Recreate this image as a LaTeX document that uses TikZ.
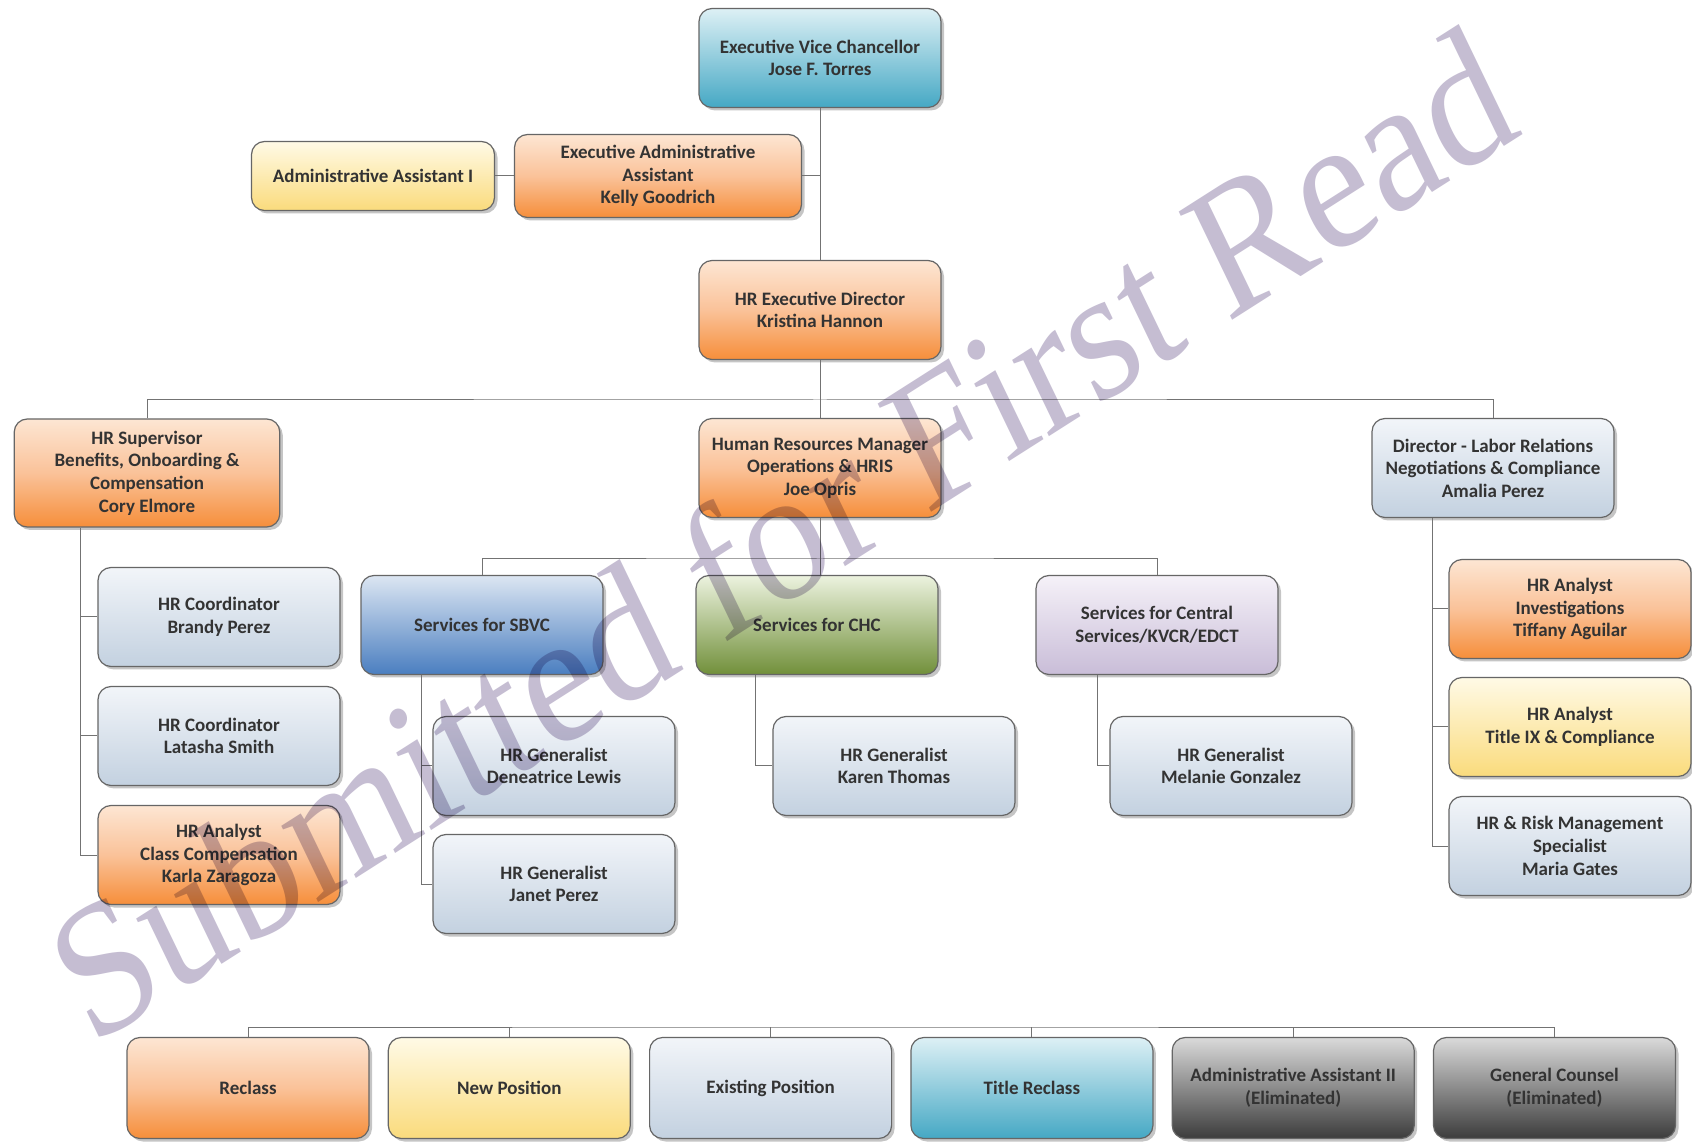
\documentclass[tikz,border=0pt]{standalone}
\usepackage{fontspec}
\setmainfont{Carlito}
\newfontfamily\markfont{Liberation Serif}
\usetikzlibrary{shadows}
\definecolor{orTop}{HTML}{FDE6D3}
\definecolor{orMid}{HTML}{FAC299}
\definecolor{orBot}{HTML}{F68E3A}
\definecolor{yeTop}{HTML}{FFFAE6}
\definecolor{yeBot}{HTML}{FADB7C}
\definecolor{gbTop}{HTML}{F2F5F9}
\definecolor{gbBot}{HTML}{C3D1E0}
\definecolor{cyTop}{HTML}{DDF0F5}
\definecolor{cyBot}{HTML}{45A8C4}
\definecolor{blTop}{HTML}{DCE6F2}
\definecolor{blBot}{HTML}{4A7EC0}
\definecolor{grTop}{HTML}{ECF2DF}
\definecolor{grBot}{HTML}{71903A}
\definecolor{laTop}{HTML}{F5F1F8}
\definecolor{laBot}{HTML}{C9BDD8}
\definecolor{dgTop}{HTML}{DADADA}
\definecolor{dgBot}{HTML}{3C3C3C}
\definecolor{boxText}{HTML}{333333}
\definecolor{markColor}{HTML}{C5BDD2}

\begin{document}
\begin{tikzpicture}[x=0.5pt,y=-0.5pt,
box/.style={rectangle,rounded corners=6.5pt,draw=black!60,line width=0.6pt,
 minimum width=121pt,minimum height=49.5pt,align=center,inner sep=2pt,
 font=\myfontbox,text=boxText,
 drop shadow={shadow xshift=1.5pt,shadow yshift=-1.5pt,opacity=0.45}},
orangebox/.style={box,top color=orTop,bottom color=orBot,middle color=orMid},
yellowbox/.style={box,top color=yeTop,bottom color=yeBot},
greybluebox/.style={box,top color=gbTop,bottom color=gbBot},
cyanbox/.style={box,top color=cyTop,bottom color=cyBot},
bluebox/.style={box,top color=blTop,bottom color=blBot},
greenbox/.style={box,top color=grTop,bottom color=grBot},
lavenderbox/.style={box,top color=laTop,bottom color=laBot},
darkbox/.style={box,top color=dgTop,bottom color=dgBot},
link/.style={draw=black!55,line width=0.5pt},
watermark/.style={font=\myfontmark,text=markColor,xscale=0.87,rotate=29}]
\newcommand{\myfontbox}{\fontsize{9.5}{11.3}\selectfont\bfseries}
\newcommand{\myfontmark}{\markfont\fontsize{95}{95}\selectfont}
%Page
\fill [white] (0,0) rectangle (1692,1143);
\useasboundingbox (0,0) rectangle (1692,1143);
%Top of the chart
\node [cyanbox] (evc) at (820,58) {Executive Vice Chancellor\\Jose F. Torres};
\node [orangebox,minimum width=143.5pt,minimum height=41.5pt] (execAssist) at (658,176) {Executive Administrative\\Assistant\\Kelly Goodrich};
\node [yellowbox,minimum width=121.5pt,minimum height=34.5pt] (adminOne) at (373,176) {Administrative Assistant I};
\node [orangebox] (hrDir) at (820,310) {HR Executive Director\\Kristina Hannon};
%Second level
\node [orangebox,minimum width=132.75pt,minimum height=54pt] (hrSup) at (147,473) {HR Supervisor\\Benefits, Onboarding \&\\Compensation\\Cory Elmore};
\node [orangebox] (hrMgr) at (820,468) {Human Resources Manager\\Operations \& HRIS\\Joe Opris};
\node [greybluebox] (dirLabor) at (1493,468) {Director - Labor Relations\\Negotiations \& Compliance\\Amalia Perez};
%Under the supervisor
\node [greybluebox] (coord1) at (219,617) {HR Coordinator\\Brandy Perez};
\node [greybluebox] (coord2) at (219,736) {HR Coordinator\\Latasha Smith};
\node [orangebox] (analystCC) at (219,855) {HR Analyst\\Class Compensation\\Karla Zaragoza};
%Services
\node [bluebox] (sbvc) at (482,625) {Services for SBVC};
\node [greenbox] (chc) at (817,625) {Services for CHC};
\node [lavenderbox] (central) at (1157,625) {Services for Central\\Services/KVCR/EDCT};
\node [greybluebox] (gen1) at (554,766) {HR Generalist\\Deneatrice Lewis};
\node [greybluebox] (gen2) at (554,884) {HR Generalist\\Janet Perez};
\node [greybluebox] (gen3) at (894,766) {HR Generalist\\Karen Thomas};
\node [greybluebox] (gen4) at (1231,766) {HR Generalist\\Melanie Gonzalez};
%Under labor relations
\node [orangebox] (analystInv) at (1570,609) {HR Analyst\\Investigations\\Tiffany Aguilar};
\node [yellowbox] (analystIX) at (1570,727) {HR Analyst\\Title IX \& Compliance};
\node [greybluebox] (riskSpec) at (1570,846) {HR \& Risk Management\\Specialist\\Maria Gates};
%Legend
\foreach \i/\txt/\sty in {0/Reclass/orangebox,1/New Position/yellowbox,2/Existing Position/greybluebox,3/Title Reclass/cyanbox,4/{Administrative Assistant II\\(Eliminated)}/darkbox,5/{General Counsel\\(Eliminated)}/darkbox} {
 \node [\sty,minimum height=50.5pt] (legend\i) at (248+261.3*\i,1088) {\txt};
}
%Rails and buses
\coordinate (busOne) at (0,400);
\coordinate (busTwo) at (0,559);
\coordinate (busLegend) at (0,1027);
\coordinate (supRail) at (80,0);
\coordinate (sbvcRail) at (421,0);
\coordinate (chcRail) at (755,0);
\coordinate (centralRail) at (1097,0);
\coordinate (laborRail) at (1432,0);
%Connectors
\draw [link] (evc.south) -- (hrDir.north);
\draw [link] (execAssist.east) -- (execAssist.east -| evc.south);
\draw [link] (adminOne.east) -- (execAssist.west);
\draw [link] (hrDir.south) -- (hrMgr.north);
\draw [link] (hrSup.north) |- (busOne -| hrMgr.north) -| (dirLabor.north);
\draw [link] (hrSup.south -| supRail) |- (coord1.west);
\draw [link] (hrSup.south -| supRail) |- (coord2.west);
\draw [link] (hrSup.south -| supRail) |- (analystCC.west);
\draw [link] (hrMgr.south) -- (hrMgr.south |- chc.north);
\draw [link] (sbvc.north) |- (busTwo -| hrMgr.south) -| (central.north);
\draw [link] (sbvc.south -| sbvcRail) |- (gen1.west);
\draw [link] (sbvc.south -| sbvcRail) |- (gen2.west);
\draw [link] (chc.south -| chcRail) |- (gen3.west);
\draw [link] (central.south -| centralRail) |- (gen4.west);
\draw [link] (dirLabor.south -| laborRail) |- (analystInv.west);
\draw [link] (dirLabor.south -| laborRail) |- (analystIX.west);
\draw [link] (dirLabor.south -| laborRail) |- (riskSpec.west);
\draw [link] (legend0.north) |- (busLegend -| legend2.north) -| (legend5.north);
\foreach \i in {1,...,4} {
 \draw [link] (legend\i.north) -- (legend\i.north |- busLegend);
}
%Watermark
\begin{scope}[blend mode=multiply]
\node [watermark] (stamp) at (780,533) {Submitted for First Read};
\end{scope}
\end{tikzpicture}
\end{document}
